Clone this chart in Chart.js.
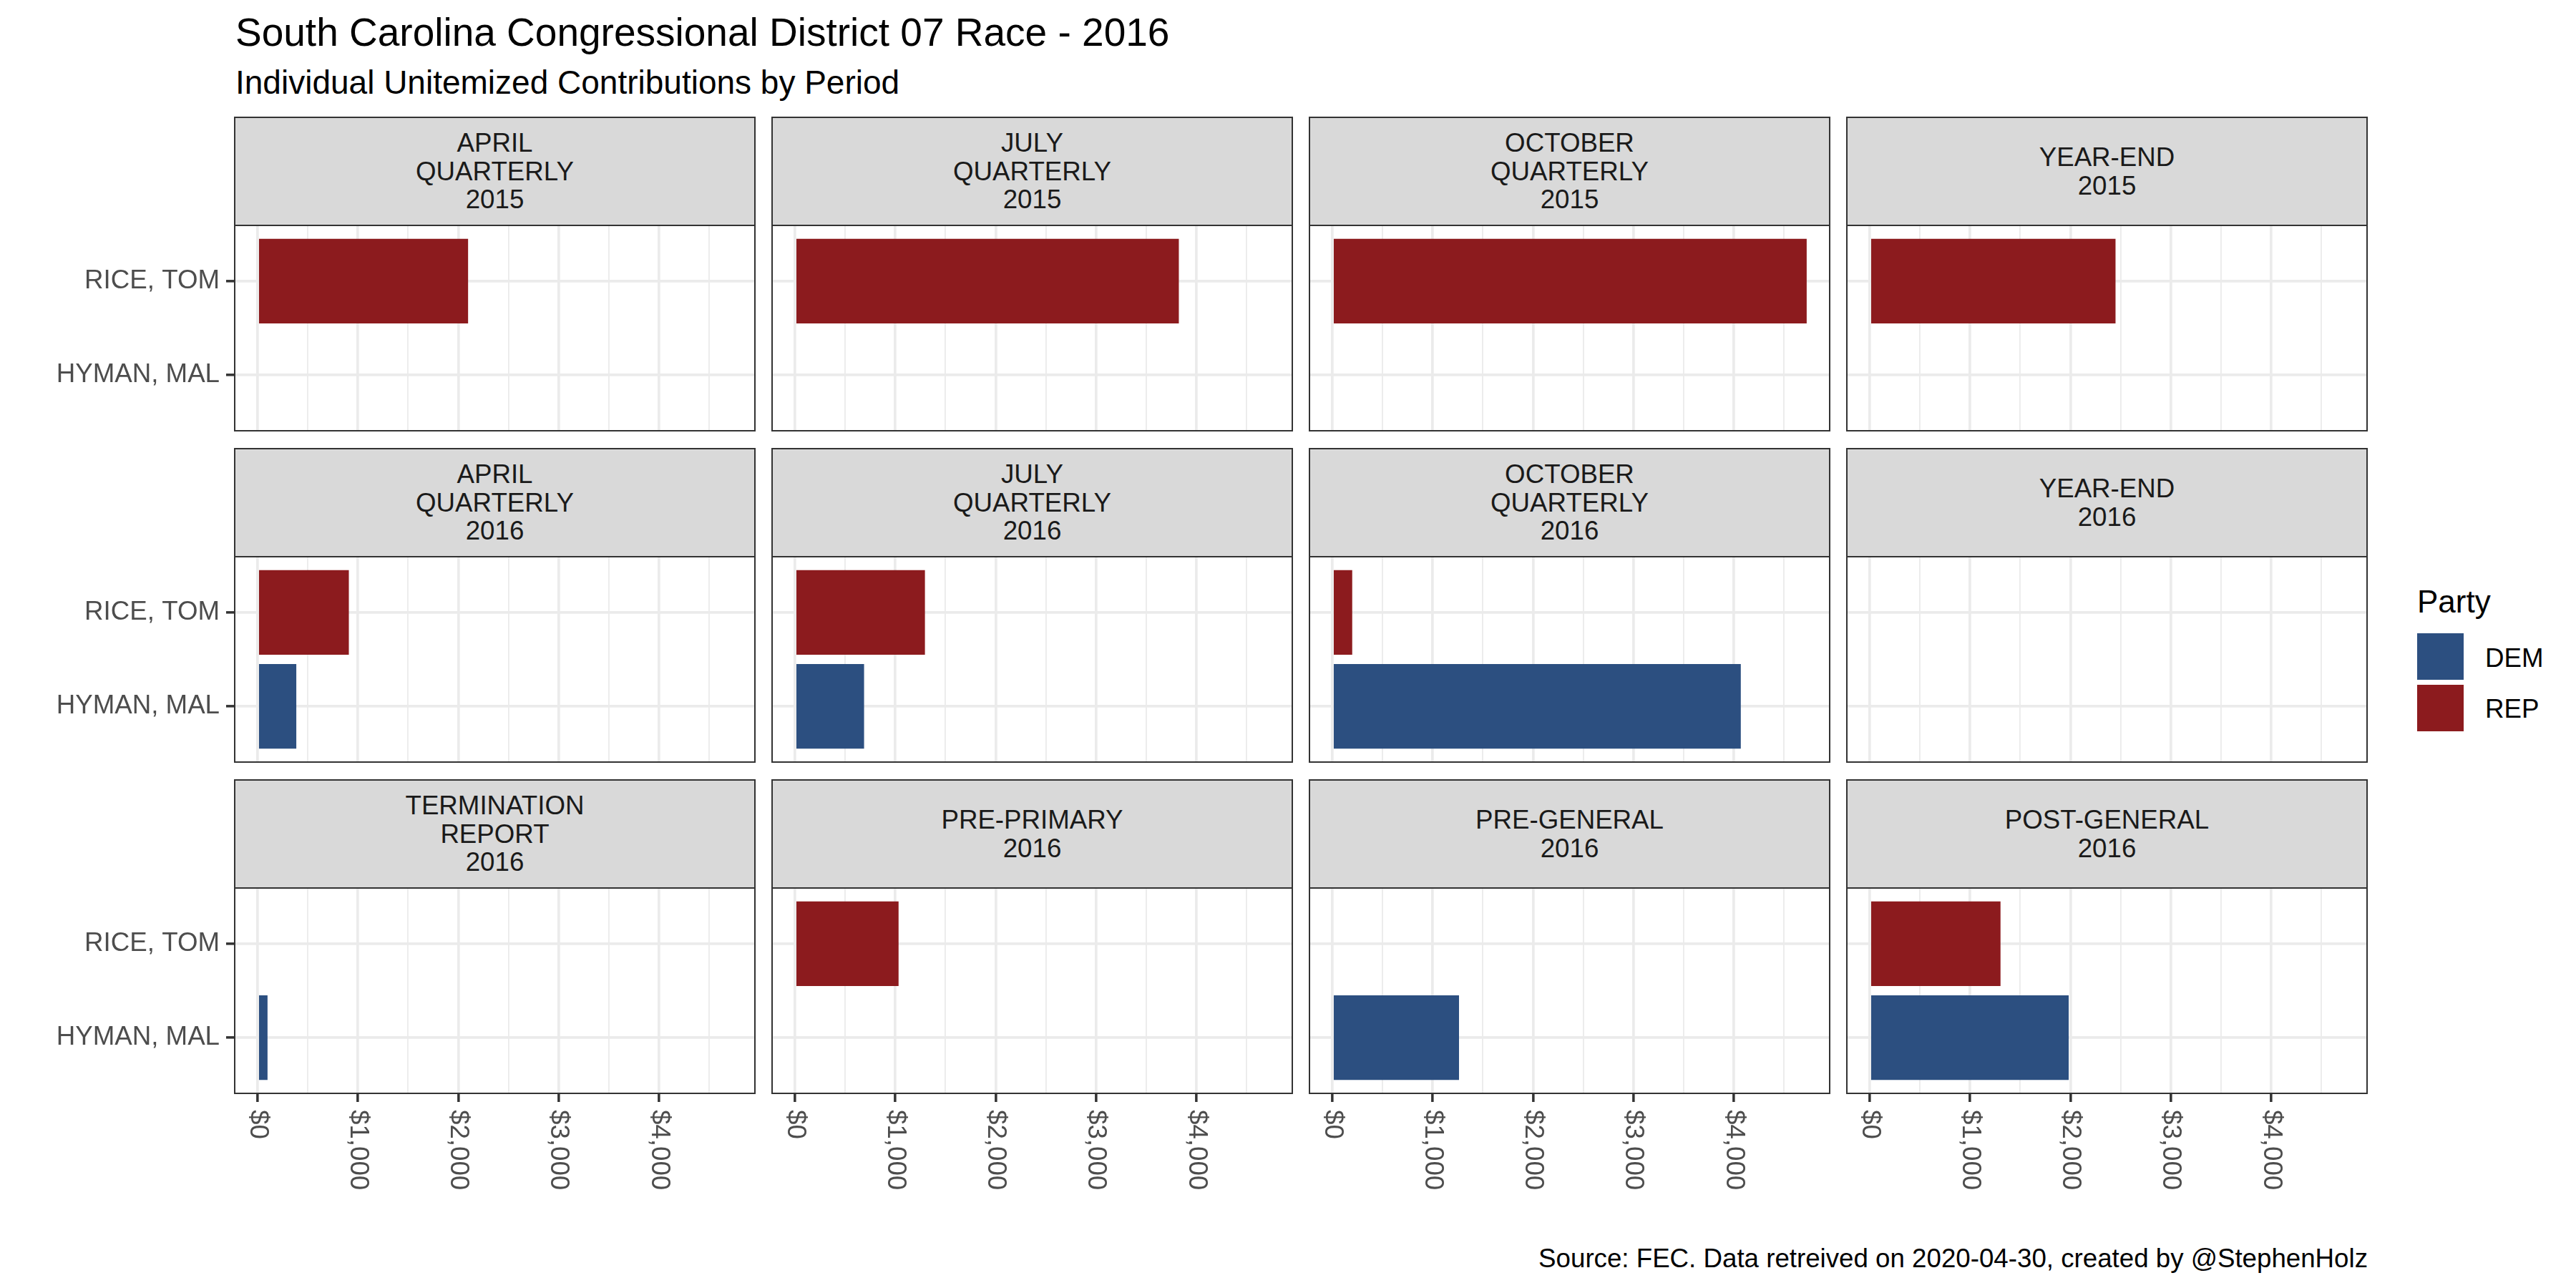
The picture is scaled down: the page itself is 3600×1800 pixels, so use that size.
<!DOCTYPE html>
<html><head><meta charset="utf-8">
<script src="https://cdn.jsdelivr.net/npm/chart.js@4.4.1/dist/chart.umd.min.js"></script>
<style>
html,body{margin:0;padding:0;background:#fff;}
#root{position:relative;width:3600px;height:1800px;overflow:hidden;background:#fff;font-family:'Liberation Sans',Arial,sans-serif;}
.abs{position:absolute;white-space:nowrap;line-height:1;}
.strip{position:absolute;background:#D9D9D9;border:2.5px solid #333;box-sizing:border-box;display:flex;align-items:center;justify-content:center;text-align:center;color:#1A1A1A;font-size:36.7px;line-height:39.5px;white-space:pre-line;}
.pborder{position:absolute;border:2.5px solid #333;box-sizing:border-box;pointer-events:none;}
.key{position:absolute;width:65px;height:65px;}
canvas{position:absolute;}
</style></head><body><div id="root">
<div class="abs" style="left:329px;top:18px;font-size:55px;color:#000">South Carolina Congressional District 07 Race - 2016</div>
<div class="abs" style="left:329px;top:92px;font-size:46px;color:#000">Individual Unitemized Contributions by Period</div>
<div class="abs" style="right:291px;top:1741px;font-size:36.7px;color:#000">Source: FEC. Data retreived on 2020-04-30, created by @StephenHolz</div>
</div>
<script>
// ---- data ----
const periods = [
  'APRIL\nQUARTERLY\n2015', 'JULY\nQUARTERLY\n2015', 'OCTOBER\nQUARTERLY\n2015', 'YEAR-END\n2015',
  'APRIL\nQUARTERLY\n2016', 'JULY\nQUARTERLY\n2016', 'OCTOBER\nQUARTERLY\n2016', 'YEAR-END\n2016',
  'TERMINATION\nREPORT\n2016', 'PRE-PRIMARY\n2016', 'PRE-GENERAL\n2016', 'POST-GENERAL\n2016'
];
const candidates = ['RICE, TOM', 'HYMAN, MAL'];
const candidateParty = ['REP', 'DEM'];
const riceValues  = [2098, 3827, 4729, 2450, 909, 1295, 197, null, null, 1032, null, 1303];
const hymanValues = [null, null, null, null, 385, 688, 4072, null, 98, null, 1262, 1983];
const xTickValues = [0, 1000, 2000, 3000, 4000];
const xMinorValues = [500, 1500, 2500, 3500, 4500];
const partyNames = ['DEM', 'REP'];
const partyColors = {DEM: '#2C4F80', REP: '#8C1B1E'};

// ---- layout ----
const root = document.getElementById('root');
const P = {left0: 327, top0: 163, w: 729, colStep: 751, rowStep: 463, stripH: 151, panelH: 289, bottomExtra: 230};
const FONT = "'Liberation Sans', Arial, sans-serif";
const allVals = riceValues.concat(hymanValues).filter(v => v !== null);
const dmax = Math.max(...allVals);
const xMin = -0.05 * dmax, xMax = 1.05 * dmax;
const fmt = v => '$' + v.toLocaleString('en-US');

const xLabelPlugin = {
  id: 'xLabels',
  afterDraw(chart, args, opts) {
    if (!opts.show) return;
    const s = chart.scales.x, ctx = chart.ctx;
    ctx.save();
    ctx.fillStyle = '#4D4D4D';
    ctx.font = '36.7px ' + FONT;
    ctx.textAlign = 'left';
    ctx.textBaseline = 'middle';
    xTickValues.forEach(v => {
      const px = s.getPixelForValue(v);
      ctx.save();
      ctx.translate(px, chart.chartArea.bottom + 22);
      ctx.rotate(Math.PI / 2);
      ctx.fillText(fmt(v), 0, 0);
      ctx.restore();
    });
    ctx.restore();
  }
};

periods.forEach((label, i) => {
  const r = Math.floor(i / 4), c = i % 4;
  const isLeft = c === 0, isBottom = r === 2;
  const panelLeft = P.left0 + c * P.colStep;
  const stripTop = P.top0 + r * P.rowStep;
  const panelTop = stripTop + P.stripH;
  const cvLeft = isLeft ? 0 : panelLeft;
  const cvW = (panelLeft - cvLeft) + P.w;
  const cvH = P.panelH + (isBottom ? P.bottomExtra : 0);

  const cv = document.createElement('canvas');
  cv.width = cvW; cv.height = cvH;
  cv.style.left = cvLeft + 'px'; cv.style.top = panelTop + 'px';
  cv.style.width = cvW + 'px'; cv.style.height = cvH + 'px';
  root.appendChild(cv);

  const vals = [riceValues[i], hymanValues[i]];
  const pts = [];
  vals.forEach((v, k) => { if (v !== null) pts.push({x: v, y: k + 1, party: candidateParty[k]}); });

  new Chart(cv, {
    type: 'bar',
    data: {datasets: [{
      data: pts,
      backgroundColor: pts.map(p => partyColors[p.party]),
      barPercentage: 0.9, categoryPercentage: 1.0, borderWidth: 0
    }]},
    plugins: [xLabelPlugin],
    options: {
      indexAxis: 'y', responsive: false, maintainAspectRatio: false, animation: false,
      devicePixelRatio: 1,
      layout: {padding: 0},
      plugins: {legend: {display: false}, tooltip: {enabled: false}, xLabels: {show: isBottom}},
      scales: {
        x: {
          type: 'linear', min: xMin, max: xMax, offset: false,
          afterBuildTicks: s => { s.ticks = xTickValues.concat(xMinorValues).sort((a, b) => a - b).map(v => ({value: v})); },
          afterFit: s => { s.height = isBottom ? P.bottomExtra : 0; s.paddingLeft = 0; s.paddingRight = 0; s.paddingTop = 0; s.paddingBottom = 0; },
          border: {display: false},
          ticks: {display: false},
          grid: {
            offset: false,
            color: '#EBEBEB',
            lineWidth: ctx => (ctx.tick && xTickValues.includes(ctx.tick.value)) ? 3.7 : 1.85,
            drawTicks: isBottom, tickLength: 11,
            tickColor: ctx => (ctx.tick && xTickValues.includes(ctx.tick.value)) ? '#333333' : 'rgba(0,0,0,0)',
            tickWidth: 3.5
          }
        },
        y: {
          type: 'linear', min: 0.4, max: 2.6, reverse: true, offset: false,
          afterBuildTicks: s => { s.ticks = candidates.map((n, k) => ({value: k + 1})); },
          afterFit: s => { s.width = isLeft ? (panelLeft - cvLeft) : 0; s.paddingTop = 0; s.paddingBottom = 0; s.paddingLeft = 0; s.paddingRight = 0; },
          border: {display: false},
          ticks: {
            display: isLeft, padding: 9, color: '#4D4D4D',
            font: {family: FONT, size: 36.7},
            callback: v => candidates[Math.round(v) - 1]
          },
          grid: {offset: false, color: '#EBEBEB', lineWidth: 3.7, drawTicks: isLeft, tickLength: 11, tickColor: '#333333', tickWidth: 3.5}
        }
      }
    }
  });

  const pb = document.createElement('div');
  pb.className = 'pborder';
  pb.style.left = panelLeft + 'px'; pb.style.top = panelTop + 'px';
  pb.style.width = P.w + 'px'; pb.style.height = P.panelH + 'px';
  root.appendChild(pb);

  const st = document.createElement('div');
  st.className = 'strip';
  st.style.left = panelLeft + 'px'; st.style.top = stripTop + 'px';
  st.style.width = P.w + 'px'; st.style.height = (P.stripH + 2) + 'px';
  st.textContent = label;
  root.appendChild(st);
});

// legend
const lg = document.createElement('div');
lg.className = 'abs'; lg.style.left = '3378px'; lg.style.top = '819px'; lg.style.fontSize = '44px'; lg.style.color = '#000';
lg.textContent = 'Party';
root.appendChild(lg);
partyNames.forEach((p, k) => {
  const key = document.createElement('div');
  key.className = 'key'; key.style.left = '3378px'; key.style.top = (885 + k * 72) + 'px'; key.style.background = partyColors[p];
  root.appendChild(key);
  const t = document.createElement('div');
  t.className = 'abs'; t.style.left = '3473px'; t.style.top = (902 + k * 71) + 'px'; t.style.fontSize = '36.7px'; t.style.color = '#000';
  t.textContent = p;
  root.appendChild(t);
});
</script>
</body></html>
